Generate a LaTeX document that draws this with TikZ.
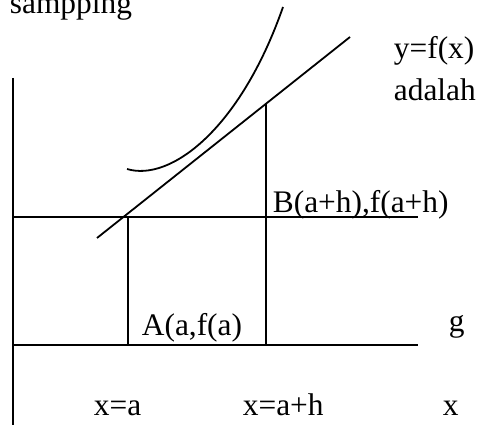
\documentclass[tikz,border=0pt]{standalone}
\usepackage{fontspec}
\setmainfont{Liberation Serif}
\begin{document}
\begin{tikzpicture}[x=1bp,y=-1bp,line width=1.8bp,
  lbl/.style={anchor=base west,inner sep=0pt,font=\fontsize{31.5}{38}\selectfont}]
\useasboundingbox (0,0) rectangle (479,434);
% axes and grid lines
\coordinate (axtop) at (13,78);
\coordinate (axbot) at (13,425);
\coordinate (h1l) at (13,217);
\coordinate (h1r) at (418,217);
\coordinate (h2l) at (13,345);
\coordinate (h2r) at (418,345);
\coordinate (vat) at (128,217);
\coordinate (vab) at (128,345);
\coordinate (vbt) at (266,104);
\coordinate (vbb) at (266,345);
\coordinate (tan1) at (97,238);
\coordinate (tan2) at (350,37);
\coordinate (c0) at (127,169);
\coordinate (c3) at (283,7);
\draw (axtop) -- (axbot);
\draw (h1l) -- (h1r);
\draw (h2l) -- (h2r);
\draw (vat) -- (vab);
\draw (vbt) -- (vbb);
\draw (tan1) -- (tan2);
\draw (c0) .. controls (170,182) and (240,130) .. (c3);
% labels
\node[lbl] (samp) at (9,14) {sampping};
\node[lbl] (yfx) at (393,59) {y=f(x)};
\node[lbl] (adl) at (393,101) {adalah};
\node[lbl] (B) at (272,213) {B(a+h),f(a+h)};
\node[lbl] (A) at (141,335) {A(a,f(a)};
\node[lbl] (g) at (448,331) {g};
\node[lbl] (xa) at (93,415) {x=a};
\node[lbl] (xah) at (242,415) {x=a+h};
\node[lbl] (x) at (442,415) {x};
\end{tikzpicture}
\end{document}
